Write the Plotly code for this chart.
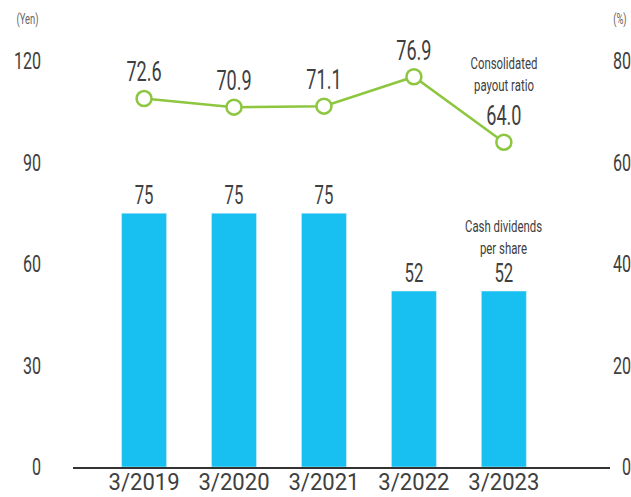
import plotly.graph_objects as go

categories = ["3/2019", "3/2020", "3/2021", "3/2022", "3/2023"]
dividends = [75, 75, 75, 52, 52]
payout_ratio = [72.6, 70.9, 71.1, 76.9, 64.0]
left_ticks = [0, 30, 60, 90, 120]
right_ticks = [0, 20, 40, 60, 80]

FONT = "Roboto, 'Noto Sans', sans-serif"
TXT = "#404040"
BAR = "#17C0F0"
GREEN = "#8DC63F"

fig = go.Figure()
fig.add_trace(go.Bar(
    x=categories, y=dividends, marker_color=BAR, width=0.5,
    text=[str(v) for v in dividends], textposition="outside",
    constraintext="none",
    textfont=dict(size=25, color=TXT, family=FONT), cliponaxis=False,
    yaxis="y",
))
fig.add_trace(go.Scatter(
    x=categories, y=payout_ratio, mode="lines+markers+text",
    line=dict(color=GREEN, width=2.5),
    marker=dict(size=15, color="white", line=dict(color=GREEN, width=2.5)),
    text=[f"{v:.1f}" for v in payout_ratio], textposition="top center",
    textfont=dict(size=27, color=TXT, family=FONT), cliponaxis=False,
    yaxis="y2",
))

fig.update_layout(
    width=631, height=497,
    margin=dict(l=73, r=21, t=61, b=30),
    paper_bgcolor="white", plot_bgcolor="white",
    showlegend=False,
    font=dict(family=FONT, color=TXT),
    xaxis=dict(
        type="category", range=[-0.79, 5.18], showgrid=False,
        showline=True, linecolor="#333333", linewidth=1.5,
        ticks="", tickfont=dict(size=24, color=TXT), ticklabelstandoff=-8,
        tickangle=0, automargin=False,
    ),
    yaxis=dict(
        range=[0, 120], tickvals=left_ticks, ticktext=[str(v) for v in left_ticks],
        showgrid=False, zeroline=False, showline=False, ticks="",
        tickfont=dict(size=24, color=TXT), ticklabelstandoff=31,
        automargin=False,
    ),
    yaxis2=dict(
        range=[0, 80], overlaying="y", side="right",
        tickvals=right_ticks,
        ticktext=[("\u2007" + str(v)) if v < 10 else str(v) for v in right_ticks],
        showgrid=False, zeroline=False, showline=False, ticks="",
        tickfont=dict(size=24, color=TXT), ticklabelstandoff=2,
        automargin=False,
    ),
    annotations=[
        dict(text="(Yen)", xref="paper", yref="paper", x=-0.084, y=1.101,
             xanchor="center", yanchor="middle", showarrow=False,
             font=dict(size=14, color="#666666")),
        dict(text="(%)", xref="paper", yref="paper", x=1.0186, y=1.101,
             xanchor="center", yanchor="middle", showarrow=False,
             font=dict(size=14, color="#666666")),
        dict(text="Consolidated<br>payout ratio", x="3/2023", xref="x",
             yref="paper", y=0.968, xanchor="center", yanchor="middle",
             showarrow=False, font=dict(size=17, color=TXT)),
        dict(text="Cash dividends<br>per share", x="3/2023", xref="x",
             yref="paper", y=0.5665, xanchor="center", yanchor="middle",
             showarrow=False, font=dict(size=17, color=TXT)),
    ],
)

# Narrow the glyphs horizontally (the original uses a condensed typeface).
post = """
var gd = document.getElementById('{plot_id}');
function squeeze(t, s) {
  var x = parseFloat(t.getAttribute('x')) || 0;
  var tr = t.getAttribute('transform') || '';
  t.setAttribute('transform', tr + ' translate(' + x + ',0) scale(' + s + ',1) translate(' + (-x) + ',0)');
}
gd.querySelectorAll('svg text').forEach(function(t) {
  var isX = t.closest('.xtick') !== null;
  squeeze(t, isX ? 0.92 : 0.67);
});
"""

fig.write_html("out.html", post_script=post)
